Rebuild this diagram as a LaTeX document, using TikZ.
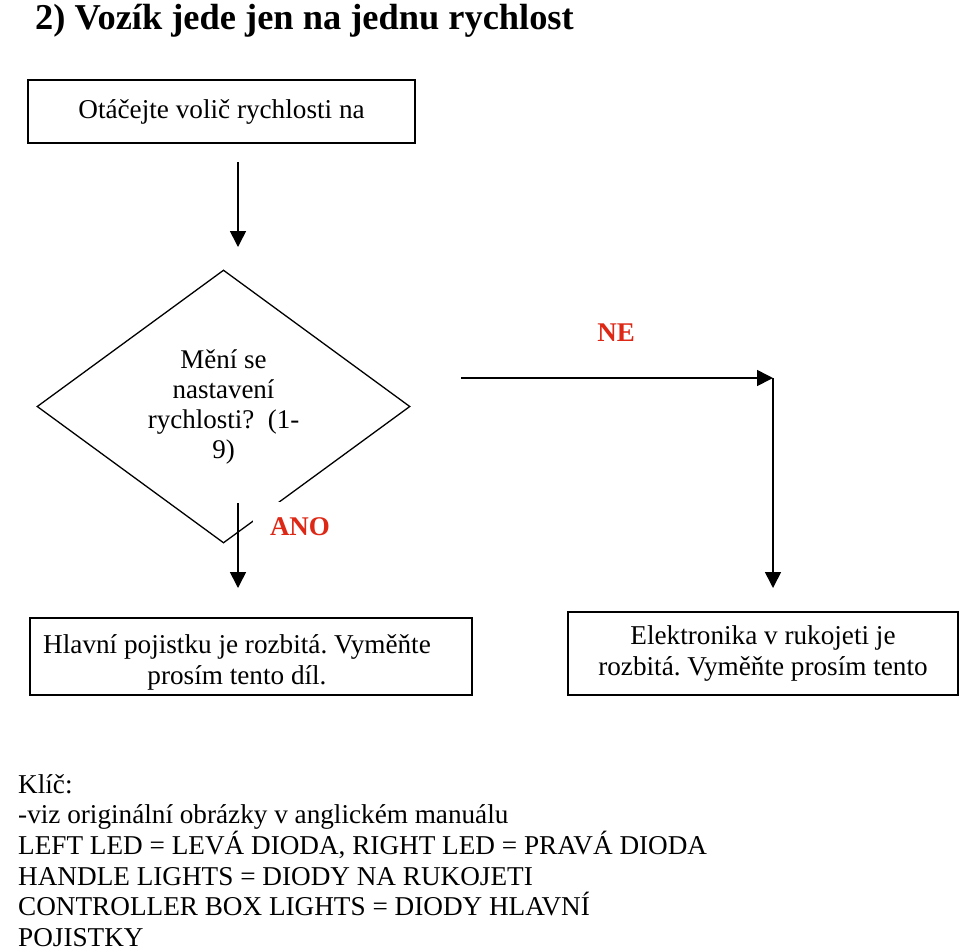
\documentclass[tikz,border=0pt]{standalone}
\usepackage{fontspec}
\setmainfont{Liberation Serif}
\usetikzlibrary{shapes.geometric,arrows.meta,positioning}
\definecolor{answerred}{RGB}{222,40,22}
\frenchspacing

\begin{document}
\begin{tikzpicture}[
  x=1pt, y=-1pt,
  block/.style={rectangle, draw, line width=1.6pt, inner sep=0pt, align=center},
  decision/.style={diamond, draw, line width=1.3pt, aspect=1.366, minimum width=373pt, minimum height=273pt, inner sep=0pt, align=center, font=\fontsize{27}{30}\selectfont},
  answer/.style={fill=white, font=\fontsize{27}{31}\selectfont\bfseries, text=answerred},
  flow/.style={-{Triangle[length=16pt,width=16pt]}, line width=1.6pt},
  font=\fontsize{27.2}{31}\selectfont
]
\useasboundingbox (0,0) rectangle (960,951);

% Title
\node[anchor=base west, inner sep=0pt, font=\fontsize{36.4}{40}\selectfont\bfseries] (title) at (35,29) {2) Vozík jede jen na jednu rychlost};

% Start
\node[block, minimum width=387pt, minimum height=63pt] (turn) at (221.5,111.5) {Otáčejte volič rychlosti na};

% Decision
\node[decision] (ask) at (223.5,406.5) {Mění se\\nastavení\\rychlosti?~~(1-\\9)};
\node[answer, minimum width=94pt, minimum height=50pt] (yes) at (300,527) {ANO};
\node[answer] (no) at (616,333) {NE};

% Results
\node[block, minimum width=442pt, minimum height=77pt] (fuse) at (251,656.5) {};
\node[align=center, inner sep=0pt] (fusetext) at (237,662) {Hlavní pojistku je rozbitá. Vyměňte\\prosím tento díl.};
\node[block, minimum width=390pt, minimum height=83pt] (handle) at (763,653.5) {Elektronika v rukojeti je\\rozbitá. Vyměňte prosím tento};

% Key
\node[anchor=north west, align=left, inner sep=0pt, font=\fontsize{27.2}{30.7}\selectfont] (key) at (18,774) {Klíč:\\-viz originální obrázky v anglickém manuálu\\LEFT LED = LEVÁ DIODA, RIGHT LED = PRAVÁ DIODA\\HANDLE LIGHTS = DIODY NA RUKOJETI\\CONTROLLER BOX LIGHTS = DIODY HLAVNÍ\\POJISTKY};

% Connections
\coordinate (turnout) at (238,162);
\coordinate (askin) at (238,247);
\coordinate (yesout) at (238,503);
\coordinate (yesend) at (238,588);
\coordinate (noout) at (461,378);
\coordinate (nocorner) at (773,378);
\coordinate (noend) at (773,588);
\draw[flow] (turnout) -- (askin);
\draw[flow] (yesout) -- (yesend);
\draw[flow] (noout) -- (nocorner);
\draw[flow] (nocorner) -- (noend);
\end{tikzpicture}
\end{document}
